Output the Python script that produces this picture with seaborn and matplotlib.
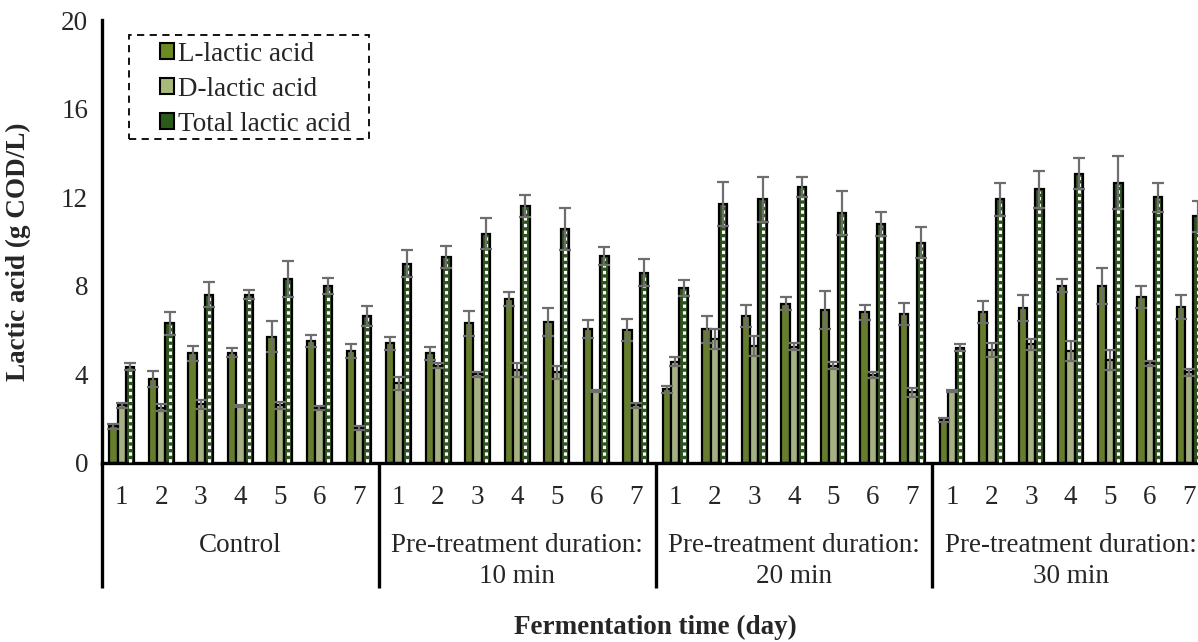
import numpy as np
import pandas as pd
import matplotlib
matplotlib.use("Agg")
import matplotlib.pyplot as plt
import seaborn as sns
from matplotlib.patches import Patch, Rectangle
from matplotlib.transforms import blended_transform_factory

# ---- data -------------------------------------------------------------
groups = ["Control",
          "Pre-treatment duration:\n10 min",
          "Pre-treatment duration:\n20 min",
          "Pre-treatment duration:\n30 min"]
days = ["1", "2", "3", "4", "5", "6", "7"]
series = ["L-lactic acid", "D-lactic acid", "Total lactic acid"]

l_lactic = [1.65, 3.80, 4.95, 4.97, 5.70, 5.50, 5.05,
            5.40, 4.95, 6.30, 7.40, 6.37, 6.05, 6.00,
            3.33, 6.03, 6.65, 7.20, 6.90, 6.80, 6.73,
            1.94, 6.80, 7.00, 8.00, 8.00, 7.50, 7.05]
l_err = [0.10, 0.35, 0.35, 0.20, 0.70, 0.28, 0.30,
         0.30, 0.30, 0.55, 0.30, 0.65, 0.40, 0.50,
         0.15, 0.60, 0.50, 0.30, 0.85, 0.35, 0.50,
         0.10, 0.50, 0.60, 0.30, 0.80, 0.50, 0.55]

d_lactic = [2.60, 2.50, 2.65, 2.57, 2.60, 2.48, 1.58,
            3.60, 4.40, 4.00, 4.20, 4.10, 3.25, 2.60,
            4.57, 5.60, 5.30, 5.25, 4.40, 3.97, 3.20,
            3.25, 5.10, 5.37, 5.05, 4.65, 4.50, 4.10]
d_err = [0.10, 0.15, 0.20, 0.03, 0.15, 0.10, 0.10,
         0.30, 0.10, 0.10, 0.30, 0.30, 0.03, 0.10,
         0.20, 0.45, 0.45, 0.15, 0.15, 0.15, 0.20,
         0.03, 0.30, 0.25, 0.45, 0.45, 0.10, 0.15]

total_lactic = [4.35, 6.30, 7.60, 7.60, 8.30, 8.00, 6.65,
                9.00, 9.30, 10.35, 11.60, 10.55, 9.35, 8.60,
                7.90, 11.70, 11.90, 12.45, 11.30, 10.80, 9.95,
                5.20, 11.90, 12.35, 13.05, 12.65, 12.00, 11.15]
total_err = [0.15, 0.50, 0.55, 0.20, 0.80, 0.35, 0.45,
             0.60, 0.50, 0.70, 0.50, 0.95, 0.40, 0.60,
             0.35, 1.00, 1.00, 0.45, 1.00, 0.55, 0.70,
             0.15, 0.75, 0.85, 0.70, 1.20, 0.65, 0.70]

y_ticks = [0, 4, 8, 12, 16, 20]

# ---- long-format table ----------------------------------------------
slots = [f"{g.splitlines()[-1]} d{d}" for g in groups for d in days]
values = {series[0]: l_lactic, series[1]: d_lactic, series[2]: total_lactic}
errors = {series[0]: l_err, series[1]: d_err, series[2]: total_err}
df = pd.DataFrame(
    [(s, name, v) for name in series for s, v in zip(slots, values[name])],
    columns=["slot", "acid", "value"],
)

colors = {series[0]: "#6b8a1f", series[1]: "#a9b97a", series[2]: "#2b5b18"}

# ---- style ------------------------------------------------------------
sns.set_style("white")
plt.rcParams["font.family"] = ["Liberation Serif", "DejaVu Serif"]
FS = 19.5

fig = plt.figure(figsize=(11.98, 6.42), dpi=100)
ax = fig.add_axes([102 / 1198, 1 - 463 / 642, 1107 / 1198, 443 / 642])

sns.barplot(data=df, x="slot", y="value", hue="acid", order=slots,
            hue_order=series, palette=colors, width=0.63, gap=0,
            edgecolor="black", linewidth=1.6, errorbar=None,
            legend=False, ax=ax, zorder=2)

# white dashed core of the total bars, plus error bars for every series
for name, cont in zip(series, ax.containers):
    xs = [p.get_x() + p.get_width() / 2 for p in cont.patches]
    hs = [p.get_height() for p in cont.patches]
    if name == series[2]:
        for x, h in zip(xs, hs):
            ax.plot([x, x], [0.05, h - 0.08], color="white", lw=2.2,
                    dashes=(1.1, 1.1), dash_capstyle="butt",
                    solid_capstyle="butt", zorder=3)
    ax.errorbar(xs, hs, yerr=errors[name], fmt="none", ecolor="#6e6e6e",
                elinewidth=1.6, capsize=4, capthick=1.6, zorder=4)

# ---- axes ---------------------------------------------------------------
ax.set_ylim(0, 20)
ax.set_xlim(-0.5, len(slots) - 0.5)
ax.set_yticks(y_ticks)
ax.set_yticklabels([str(t) for t in y_ticks], fontsize=FS)
ax.set_xticks(range(len(slots)))
ax.set_xticklabels(days * len(groups), fontsize=FS)
ax.tick_params(axis="y", length=0, pad=10)
ax.tick_params(axis="x", length=0, pad=16)
ax.set_xlabel("")
ax.set_ylabel("")
for side in ("top", "right"):
    ax.spines[side].set_visible(False)
for side in ("left", "bottom"):
    ax.spines[side].set_linewidth(2.4)
    ax.spines[side].set_color("black")

# multi-level category axis: separators and group names
trans = blended_transform_factory(ax.transData, ax.transAxes)
n = len(days)
for k in range(len(groups) + 1):
    xb = k * n - 0.5
    ax.plot([xb, xb], [0, -0.282], transform=trans, color="black",
            lw=2.4, clip_on=False, solid_capstyle="butt")
for k, g in enumerate(groups):
    ax.text(k * n + (n - 1) / 2, -0.158, g, transform=trans, ha="center",
            va="top", fontsize=FS, linespacing=1.3)

ax.text(0.5, -0.372, "Fermentation time (day)", transform=ax.transAxes,
        ha="center", va="center", fontsize=FS, fontweight="bold")
fig.text(18 / 1198, 1 - 252 / 642, "Lactic acid (g COD/L)", rotation=90,
         ha="center", va="center", fontsize=FS, fontweight="bold")

# legend inside a dashed box
box = Rectangle((0.0244, 0.7314), 0.2168, 0.2347, transform=ax.transAxes,
                facecolor="white", edgecolor="black", linewidth=1.3,
                linestyle=(0, (4, 3)), zorder=5)
ax.add_patch(box)
handles = [Patch(facecolor=colors[s], edgecolor="black", linewidth=1.5,
                 label=s) for s in series]
leg = ax.legend(handles=handles, loc="upper left",
                bbox_to_anchor=(0.052, 0.951), borderaxespad=0,
                borderpad=0, fontsize=FS, handlelength=0.55,
                handleheight=0.55, handletextpad=0.12, labelspacing=0.37,
                frameon=False)
leg.set_zorder(6)

fig.savefig("out.png", dpi=100)
